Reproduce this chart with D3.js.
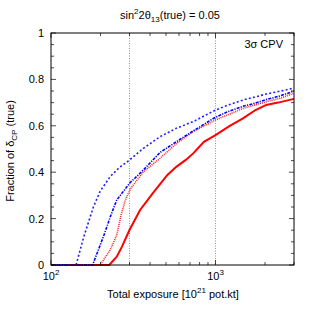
<!DOCTYPE html>
<html><head><meta charset="utf-8">
<script src="https://cdn.jsdelivr.net/npm/d3@7"></script>
<style>
body{margin:0;background:#fff;}
text{font-family:"Liberation Sans",Arial,sans-serif;fill:#000;}
</style></head>
<body><svg id="c" width="313" height="313"></svg>
<script>
// Data (exposure in 10^21 pot.kt, fraction of deltaCP)
const blueDottedX = [100,142,158,181,199,229,260,300,360,460,580,732,1000,1200,1469,1750,2036,2500,2950,3000];
const blueDottedY = [0,0,0.12,0.25,0.318,0.381,0.42,0.452,0.50,0.553,0.59,0.618,0.668,0.69,0.711,0.725,0.737,0.75,0.762,0.763];
const blueDashDotX = [100,179,209,230,251,300,365,460,580,732,1000,1200,1469,1750,2036,2500,3000];
const blueDashDotY = [0,0,0.125,0.21,0.28,0.352,0.41,0.485,0.532,0.578,0.637,0.662,0.684,0.698,0.713,0.73,0.75];
const redDottedX = [100,199,229,251,265,283,305,365,460,580,732,1000,1469,2036,2500,3000];
const redDottedY = [0,0,0.065,0.129,0.208,0.28,0.33,0.402,0.46,0.524,0.575,0.625,0.675,0.704,0.72,0.74];
const redSolidX = [100,226,251,270,300,348,415,510,580,660,732,850,1000,1200,1469,1750,2036,2400,3000];
const redSolidY = [0,0,0.036,0.079,0.151,0.237,0.309,0.388,0.424,0.453,0.481,0.531,0.56,0.596,0.632,0.668,0.69,0.70,0.716];
const yTicks = [0,0.2,0.4,0.6,0.8,1];
const yTickLabels = ["0","0.2","0.4","0.6","0.8","1"];
const xMajor = [100,1000];
const xMinor = [200,300,400,500,600,700,800,900,2000,3000];
const xRefLines = [300,1000];

const svg = d3.select("#c");
const L=51, R=294, T=33, B=265;
const x = d3.scaleLog().domain([100,3000]).range([L,R]);
const y = d3.scaleLinear().domain([0,1]).range([B,T]);

// reference dotted lines
svg.selectAll(".ref").data(xRefLines).enter().append("line")
  .attr("x1",d=>x(d)).attr("x2",d=>x(d)).attr("y1",T).attr("y2",B)
  .attr("stroke","#777").attr("stroke-width",0.8).attr("stroke-dasharray","1,1.5");

const line = d3.line().x(d=>x(d[0])).y(d=>y(d[1]));
function series(xs,ys,color,w,dash){
  svg.append("path").datum(xs.map((v,i)=>[v,ys[i]]))
    .attr("d",line).attr("fill","none").attr("stroke",color)
    .attr("stroke-width",w).attr("stroke-dasharray",dash);
}
series(redSolidX,redSolidY,"#ff0000",2,null);
series(redDottedX,redDottedY,"#ff2020",1.6,"1,1");
series(blueDashDotX,blueDashDotY,"#0000ff",1.6,"3,1.2,1.2,1.2");
series(blueDottedX,blueDottedY,"#2020ff",1.6,"2,2.2");

// frame
svg.append("rect").attr("x",L).attr("y",T).attr("width",R-L).attr("height",B-T)
  .attr("fill","none").attr("stroke","#000").attr("stroke-width",1);

// y axis ticks (left/right)
const yMinor = d3.range(0,1.0001,0.05);
yMinor.forEach(v=>{
  const major = Math.abs(v*5-Math.round(v*5))<1e-6;
  const len = major?5:3;
  svg.append("line").attr("x1",L).attr("x2",L+len).attr("y1",y(v)).attr("y2",y(v)).attr("stroke","#000").attr("stroke-width",0.7);
  svg.append("line").attr("x1",R).attr("x2",R-len).attr("y1",y(v)).attr("y2",y(v)).attr("stroke","#000").attr("stroke-width",0.7);
});
svg.selectAll(".yl").data(yTicks).enter().append("text")
  .attr("x",L-7).attr("y",d=>y(d)+4).attr("text-anchor","end").attr("font-size",11)
  .text((d,i)=>yTickLabels[i]);

// x ticks
xMajor.concat(xMinor).forEach(v=>{
  const len = xMajor.includes(v)?5:3;
  svg.append("line").attr("x1",x(v)).attr("x2",x(v)).attr("y1",B).attr("y2",B-len).attr("stroke","#000").attr("stroke-width",0.7);
  svg.append("line").attr("x1",x(v)).attr("x2",x(v)).attr("y1",T).attr("y2",T+len).attr("stroke","#000").attr("stroke-width",0.7);
});
xMajor.forEach(v=>{
  const t = svg.append("text").attr("x",x(v)).attr("y",280).attr("text-anchor","middle").attr("font-size",11);
  t.append("tspan").text("10");
  t.append("tspan").attr("dy",-5).attr("font-size",8).text(String(Math.round(Math.log10(v))));
});

// x label
const xl = svg.append("text").attr("x",173).attr("y",298).attr("text-anchor","middle").attr("font-size",11);
xl.append("tspan").text("Total exposure [10");
xl.append("tspan").attr("dy",-5).attr("font-size",8).text("21");
xl.append("tspan").attr("dy",5).text(" pot.kt]");

// y label
const yl = svg.append("text").attr("transform","translate(14,151) rotate(-90)").attr("text-anchor","middle").attr("font-size",11);
yl.append("tspan").text("Fraction of δ");
yl.append("tspan").attr("dy",3).attr("font-size",8).text("CP");
yl.append("tspan").attr("dy",-3).text(" (true)");

// title
const tt = svg.append("text").attr("x",170).attr("y",19).attr("text-anchor","middle").attr("font-size",11);
tt.append("tspan").text("sin");
tt.append("tspan").attr("dy",-5).attr("font-size",8).text("2");
tt.append("tspan").attr("dy",5).text("2θ");
tt.append("tspan").attr("dy",3).attr("font-size",8).text("13");
tt.append("tspan").attr("dy",-3).text("(true) = 0.05");

// annotation
svg.append("text").attr("x",283).attr("y",48).attr("text-anchor","end").attr("font-size",11).text("3σ CPV");
</script></body></html>
